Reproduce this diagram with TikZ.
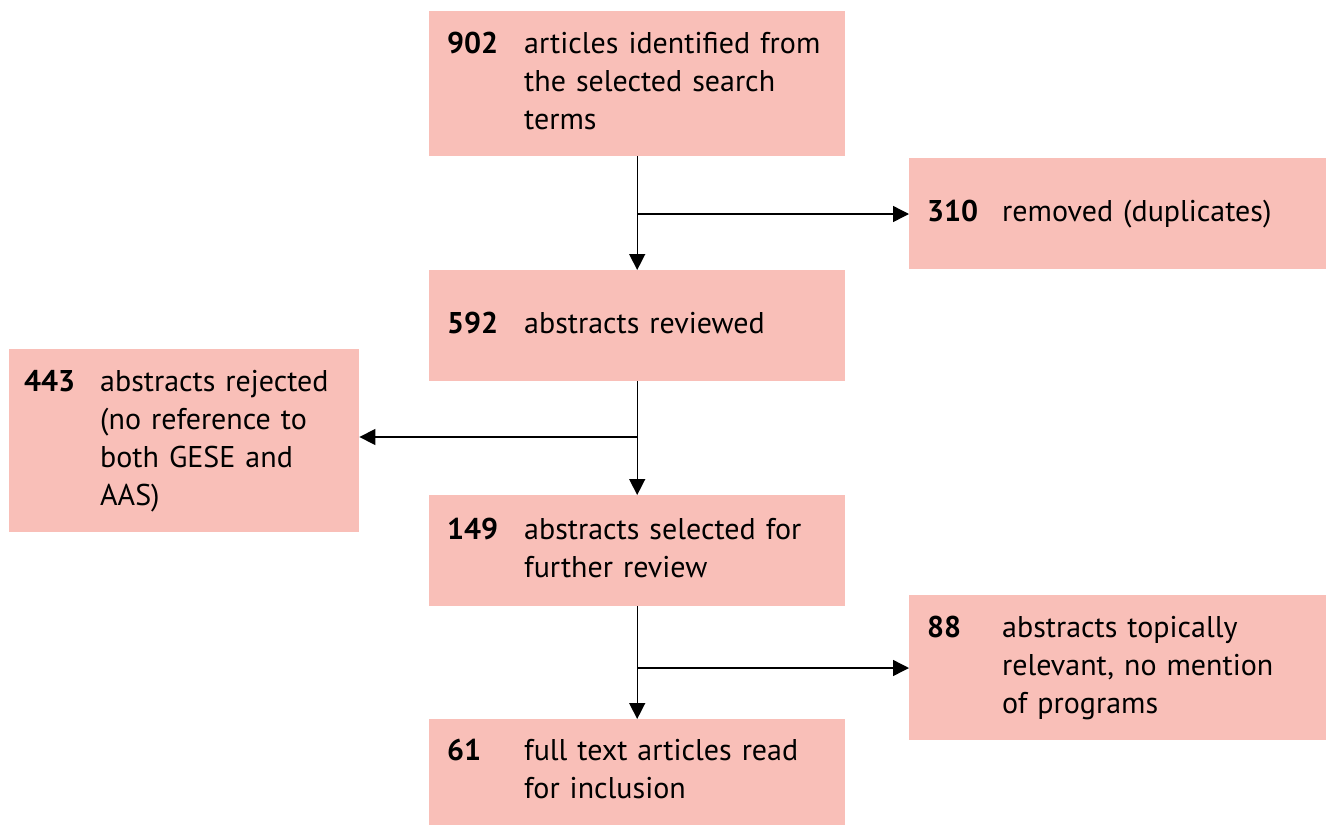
\documentclass[tikz,border=0pt]{standalone}
\usepackage{fontspec}
\setmainfont{PT Sans}
\usetikzlibrary{arrows.meta}
\definecolor{boxfill}{HTML}{F9BFB8}
\newcommand{\boxtext}[3]{\begin{tabular}{@{}p{#1}@{}l@{}}\textbf{#2} & #3\end{tabular}}
\tikzset{
  stagebox/.style={rectangle, fill=boxfill, draw=none, anchor=north west, inner xsep=18pt, inner ysep=0pt,
    align=left, font=\fontsize{30}{38}\selectfont},
  arr/.style={line width=1.4pt, draw=black, -{Triangle[length=16pt,width=16pt]}},
}
\begin{document}
\begin{tikzpicture}[x=1pt,y=-1pt]
\useasboundingbox (0,0) rectangle (1326,825);
\node[stagebox, minimum width=416pt, minimum height=145pt, text width=380pt] (A) at (429,11)
  {\boxtext{77pt}{902}{articles identified from\\ & the selected search\\ & terms}};
\node[stagebox, minimum width=417pt, minimum height=111pt, text width=381pt] (B) at (909,158)
  {\boxtext{75pt}{310}{removed (duplicates)}};
\node[stagebox, minimum width=416pt, minimum height=111pt, text width=380pt] (C) at (429,270)
  {\boxtext{77pt}{592}{abstracts reviewed}};
\node[stagebox, minimum width=350pt, minimum height=183pt, text width=320pt, inner xsep=13pt] (D) at (9,349)
  {\boxtext{76pt}{443}{abstracts rejected\\ & (no reference to\\ & both GESE and\\ & AAS)}};
\node[stagebox, minimum width=416pt, minimum height=111pt, text width=380pt] (E) at (429,495)
  {\boxtext{77pt}{149}{abstracts selected for\\ & further review}};
\node[stagebox, minimum width=417pt, minimum height=145pt, text width=381pt] (F) at (909,595)
  {\boxtext{75pt}{88}{abstracts topically\\ & relevant, no mention\\ & of programs}};
\node[stagebox, minimum width=416pt, minimum height=106pt, text width=380pt] (G) at (429,719)
  {\boxtext{77pt}{61}{full text articles read\\ & for inclusion}};
\coordinate (b1) at (637,214);
\coordinate (b2) at (637,437);
\coordinate (b3) at (637,668);
\draw[arr] (A.south) -- (C.north);
\draw[arr] (b1) -- (b1 -| B.west);
\draw[arr] (C.south) -- (E.north);
\draw[arr] (b2) -- (b2 -| D.east);
\draw[arr] (E.south) -- (G.north);
\draw[arr] (b3) -- (b3 -| F.west);
\end{tikzpicture}
\end{document}
